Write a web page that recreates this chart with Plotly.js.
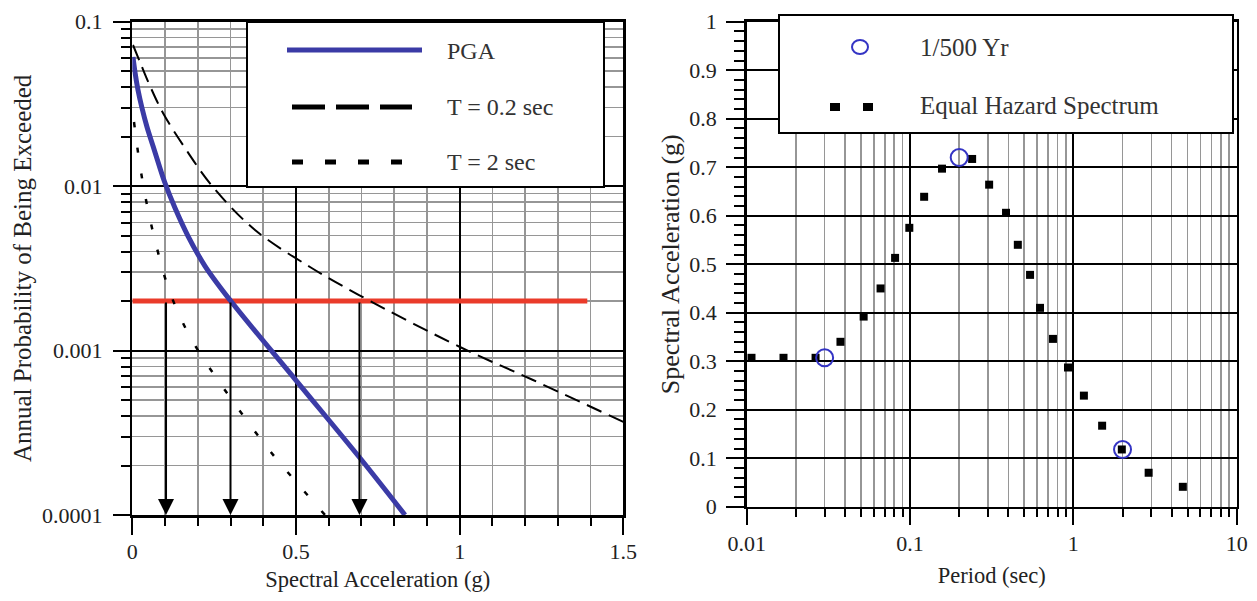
<!DOCTYPE html>
<html><head><meta charset="utf-8">
<script src="https://cdn.plot.ly/plotly-3.0.1.min.js"></script>
<style>html,body{margin:0;padding:0;background:#fff}#chart{width:1257px;height:601px}</style>
</head><body><div id="chart"></div>
<script>
// ---------- Left panel: hazard curves ----------
const pgaAccel = [0.0021, 0.0082, 0.0174, 0.0296, 0.0449, 0.0633, 0.0816, 0.0999, 0.1305, 0.1702, 0.2221, 0.2984, 0.5032, 0.6956, 0.8331];
const pgaProb  = [0.0610, 0.04943, 0.03842, 0.02986, 0.02289, 0.01754, 0.01344, 0.01045, 0.007362, 0.004973, 0.003267, 0.00203, 0.000648, 0.000222, 0.0001];

const t02Accel = [0.0021, 0.0235, 0.0541, 0.0938, 0.161, 0.2465, 0.3749, 0.5429, 0.6926, 1.0011, 1.2242, 1.5];
const t02Prob  = [0.07216, 0.05686, 0.04064, 0.02785, 0.01705, 0.00988, 0.005411, 0.003222, 0.002177, 0.001051, 0.000662, 0.000368];

const t2Accel = [0.0052, 0.0143, 0.0266, 0.0419, 0.0602, 0.0816, 0.1091, 0.1518, 0.2038, 0.2679, 0.3443, 0.4207, 0.5062, 0.5887];
const t2Prob  = [0.02455, 0.01779, 0.01219, 0.008234, 0.005563, 0.003758, 0.002435, 0.001512, 0.00098, 0.000635, 0.000389, 0.000245, 0.000154, 0.0001];

const hazardLevel = 0.002;          // 1/500 yr
const hazardAccel = [0, 1.39];      // extent of the hazard line
const arrowAccel = [0.103, 0.3, 0.694];
const arrowBottom = 0.0001;

const leftXTicks = [0, 0.5, 1, 1.5];
const leftXTickText = ['0', '0.5', '1', '1.5'];
const leftYTicks = [0.0001, 0.001, 0.01, 0.1];
const leftYTickText = ['0.0001', '0.001', '0.01', '0.1'];

// ---------- Right panel: spectrum ----------
const ehsPeriod = [0.0107, 0.0168, 0.0264, 0.0375, 0.052, 0.066, 0.081, 0.099, 0.122, 0.157, 0.24, 0.305, 0.387, 0.457, 0.543, 0.625, 0.75, 0.927, 1.16, 1.5, 1.98, 2.89, 4.68];
const ehsSa     = [0.307, 0.307, 0.307, 0.34, 0.392, 0.45, 0.513, 0.575, 0.639, 0.697, 0.717, 0.664, 0.606, 0.54, 0.478, 0.41, 0.346, 0.287, 0.229, 0.167, 0.118, 0.07, 0.041];

const yr500Period = [0.03, 0.2, 2.0];
const yr500Sa     = [0.307, 0.72, 0.118];

const rightXTicks = [0.01, 0.1, 1, 10];
const rightXTickText = ['0.01', '0.1', '1', '10'];
const rightYTicks = [0, 0.1, 0.2, 0.3, 0.4, 0.5, 0.6, 0.7, 0.8, 0.9, 1];
const rightYTickText = ['0', '0.1', '0.2', '0.3', '0.4', '0.5', '0.6', '0.7', '0.8', '0.9', '1'];

// minor log ticks (2..9 in each decade)
function logMinor(decades) {
  const out = [];
  decades.forEach(d => { for (let k = 2; k <= 9; k++) out.push(k * d); });
  return out;
}

const W = 1257, H = 601;
const px = x => x / W;
const py = y => 1 - y / H;

const FONT = '"Liberation Serif", "Times New Roman", serif';
const BLUE = '#3b3ba6';
const RED = '#ea3b2a';
const GRID_MINOR = '#969696';

const traces = [
  { x: hazardAccel, y: [hazardLevel, hazardLevel], xaxis: 'x', yaxis: 'y', mode: 'lines',
    line: { color: RED, width: 5 }, name: '1/500 hazard', showlegend: false, hoverinfo: 'skip' },
  { x: t02Accel, y: t02Prob, xaxis: 'x', yaxis: 'y', mode: 'lines', name: 'T = 0.2 sec',
    line: { color: '#000', width: 2, dash: '16px,8px', shape: 'spline', smoothing: 1 }, showlegend: false },
  { x: t2Accel, y: t2Prob, xaxis: 'x', yaxis: 'y', mode: 'lines', name: 'T = 2 sec',
    line: { color: '#000', width: 2.5, dash: '5px,21px', shape: 'spline', smoothing: 1 }, showlegend: false },
  { x: pgaAccel, y: pgaProb, xaxis: 'x', yaxis: 'y', mode: 'lines', name: 'PGA',
    line: { color: BLUE, width: 5, shape: 'spline', smoothing: 1 }, showlegend: false },
  { x: ehsPeriod, y: ehsSa, xaxis: 'x2', yaxis: 'y2', mode: 'markers', name: 'Equal Hazard Spectrum',
    marker: { symbol: 'square', size: 8, color: '#000' }, showlegend: false, cliponaxis: false },
  { x: yr500Period, y: yr500Sa, xaxis: 'x2', yaxis: 'y2', mode: 'markers', name: '1/500 Yr',
    marker: { symbol: 'circle-open', size: 17, color: '#3434c4', line: { width: 2, color: '#3434c4' } },
    showlegend: false, cliponaxis: false }
];

const axisCommon = {
  showline: true, linecolor: '#000', linewidth: 2.5, mirror: true,
  ticks: 'outside', tickcolor: '#000', tickwidth: 2,
  showgrid: true, gridcolor: '#000', gridwidth: 2, zeroline: false,
  tickfont: { family: FONT, size: 22, color: '#222' },
  fixedrange: true
};

const annotations = arrowAccel.map(a => ({
  xref: 'x', yref: 'y', axref: 'x', ayref: 'y',
  x: a, y: Math.log10(arrowBottom), ax: a, ay: Math.log10(hazardLevel),
  text: '', showarrow: true, arrowhead: 2, arrowsize: 1.6, arrowwidth: 2, arrowcolor: '#000', standoff: 0
}));

// legend texts
function legText(x, y, t, size) {
  return { xref: 'paper', yref: 'paper', x: px(x), y: py(y), xanchor: 'left', yanchor: 'middle',
           text: t, showarrow: false, font: { family: FONT, size: size, color: '#333' } };
}
annotations.push(legText(445, 51, 'PGA', 24));
annotations.push(legText(445, 107, 'T = 0.2 sec', 24));
annotations.push(legText(445, 162, 'T = 2 sec', 24));
annotations.push(legText(918, 47, '1/500 Yr', 25));
annotations.push(legText(918, 105, 'Equal Hazard Spectrum', 25));

const shapes = [
  // left legend box
  { type: 'rect', xref: 'paper', yref: 'paper', x0: px(247), x1: px(604), y0: py(187), y1: py(22),
    fillcolor: '#fff', line: { color: '#000', width: 2 }, layer: 'above' },
  { type: 'line', xref: 'paper', yref: 'paper', x0: px(287), x1: px(422), y0: py(50), y1: py(50),
    line: { color: BLUE, width: 5 }, layer: 'above' },
  { type: 'line', xref: 'paper', yref: 'paper', x0: px(292), x1: px(412), y0: py(107), y1: py(107),
    line: { color: '#000', width: 5, dash: '33px,11px' }, layer: 'above' },
  { type: 'line', xref: 'paper', yref: 'paper', x0: px(292), x1: px(402), y0: py(162), y1: py(162),
    line: { color: '#000', width: 5, dash: '11px,22px' }, layer: 'above' },
  // right legend box
  { type: 'rect', xref: 'paper', yref: 'paper', x0: px(779), x1: px(1233), y0: py(133), y1: py(15),
    fillcolor: '#fff', line: { color: '#000', width: 2 }, layer: 'above' },
  { type: 'circle', xref: 'paper', yref: 'paper', x0: px(852), x1: px(868), y0: py(54), y1: py(40),
    line: { color: '#3434c4', width: 2 }, layer: 'above' },
  { type: 'rect', xref: 'paper', yref: 'paper', x0: px(830), x1: px(840), y0: py(111), y1: py(103),
    fillcolor: '#000', line: { width: 0 }, layer: 'above' },
  { type: 'rect', xref: 'paper', yref: 'paper', x0: px(863), x1: px(873), y0: py(111), y1: py(103),
    fillcolor: '#000', line: { width: 0 }, layer: 'above' }
];

const layout = {
  width: W, height: H,
  margin: { l: 0, r: 0, t: 0, b: 0 },
  paper_bgcolor: '#fff', plot_bgcolor: '#fff',
  font: { family: FONT, color: '#222' },
  showlegend: false,
  xaxis: Object.assign({}, axisCommon, {
    domain: [px(132.3), px(623.3)], anchor: 'y', range: [0, 1.5],
    tickmode: 'array', tickvals: leftXTicks, ticktext: leftXTickText, ticklen: 17,
    ticklabelstandoff: -2,
    minor: { dtick: 0.1, tick0: 0, ticklen: 8, tickwidth: 2, tickcolor: '#000', showgrid: true, gridcolor: GRID_MINOR, gridwidth: 1.6 },
    title: { text: 'Spectral Acceleration (g)', font: { family: FONT, size: 22.5, color: '#222' }, standoff: 9 }
  }),
  yaxis: Object.assign({}, axisCommon, {
    domain: [py(515), py(21.7)], anchor: 'x', type: 'log', range: [-4, -1],
    tickmode: 'array', tickvals: leftYTicks, ticktext: leftYTickText, ticklen: 17,
    ticklabelstandoff: 6,
    minor: { tickmode: 'array', tickvals: logMinor([0.0001, 0.001, 0.01]), ticklen: 9, tickwidth: 2, tickcolor: '#000',
             showgrid: true, gridcolor: GRID_MINOR, gridwidth: 1.6 },
    title: { text: 'Annual Probability of Being Exceeded', font: { family: FONT, size: 25, color: '#222' }, standoff: 3 }
  }),
  xaxis2: Object.assign({}, axisCommon, {
    domain: [px(746.7), px(1236.7)], anchor: 'y2', type: 'log', range: [-2, 1],
    tickmode: 'array', tickvals: rightXTicks, ticktext: rightXTickText, ticklen: 16,
    ticklabelstandoff: -1,
    minor: { tickmode: 'array', tickvals: logMinor([0.01, 0.1, 1]), ticklen: 8, tickwidth: 2, tickcolor: '#000',
             showgrid: true, gridcolor: GRID_MINOR, gridwidth: 1.6 },
    title: { text: 'Period (sec)', font: { family: FONT, size: 22.5, color: '#222' }, standoff: 13 }
  }),
  yaxis2: Object.assign({}, axisCommon, {
    domain: [py(506.7), py(21.7)], anchor: 'x2', range: [0, 1],
    tickmode: 'array', tickvals: rightYTicks, ticktext: rightYTickText, ticklen: 18,
    ticklabelstandoff: 5,
    minor: { dtick: 0.02, tick0: 0, ticklen: 10, tickwidth: 2, tickcolor: '#000', showgrid: false },
    title: { text: 'Spectral Acceleration (g)', font: { family: FONT, size: 26, color: '#222' }, standoff: 2 }
  }),
  annotations: annotations,
  shapes: shapes
};

Plotly.newPlot('chart', traces, layout, { staticPlot: true, displayModeBar: false });
</script></body></html>
